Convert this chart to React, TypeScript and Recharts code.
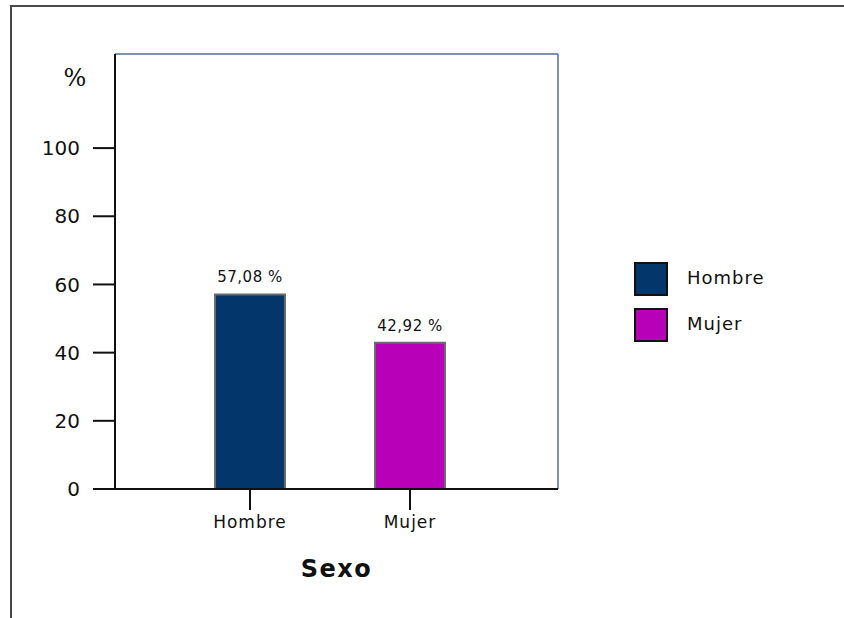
import React from 'react';
import {
  BarChart,
  Bar,
  XAxis,
  YAxis,
  Cell,
  LabelList,
  CartesianGrid,
} from 'recharts';

// Distribución por sexo (%)
const categories = ['Hombre', 'Mujer'];
const percentages = [57.08, 42.92];
const barColors = ['#03366a', '#b800b8'];
const yTicks = [0, 20, 40, 60, 80, 100];
const Y_MAX = 127.6;

const FONT = '"Century Gothic", "DejaVu Sans", sans-serif';

const data = categories.map((name, i) => ({ name, value: percentages[i] }));

const formatPct = (v: number) => `${v.toFixed(2).replace('.', ',')} %`;

const LegendBox = () => (
  <div
    style={{
      position: 'absolute',
      left: 634,
      top: 256,
      fontFamily: FONT,
      fontSize: 18,
      letterSpacing: 1,
      color: '#111',
    }}
  >
    {categories.map((c, i) => (
      <div key={c} style={{ display: 'flex', alignItems: 'center', height: 46 }}>
        <div
          style={{
            width: 30,
            height: 30,
            background: barColors[i],
            border: '2px solid #111',
            marginRight: 19,
          }}
        />
        <span style={{ marginTop: -3 }}>{c}</span>
      </div>
    ))}
  </div>
);

const PercentLabel = ({ viewBox }: any) => (
  <text
    x={viewBox.x + 75}
    y={viewBox.y + 32}
    textAnchor="middle"
    fontFamily="'DejaVu Serif', serif"
    fontSize={24}
    fill="#111"
  >
    %
  </text>
);

export default function App() {
  return (
    <div style={{ position: 'absolute', left: 0, top: 0, width: 844, height: 618, background: '#fff' }}>
      <div
        style={{
          position: 'absolute',
          left: 10,
          top: 5,
          right: 0,
          bottom: 0,
          borderTop: '2px solid #4a4a4a',
          borderLeft: '2px solid #4a4a4a',
        }}
      />
      <BarChart
        width={844}
        height={618}
        data={data}
        margin={{ top: 54, right: 286, bottom: 39, left: 0 }}
        style={{ position: 'absolute', left: 0, top: 0 }}
      >
        {/* frame on the top and right edges of the plot area */}
        <CartesianGrid
          yAxisId="left"
          stroke="#4f6e96"
          strokeWidth={1.5}
          horizontalCoordinatesGenerator={({ offset }: any) => [offset.top]}
          verticalCoordinatesGenerator={({ offset }: any) => [offset.left + offset.width]}
        />
        <XAxis
          dataKey="name"
          height={90}
          padding={{ left: 55, right: 68 }}
          axisLine={{ stroke: '#111', strokeWidth: 2 }}
          tickLine={{ stroke: '#111', strokeWidth: 2 }}
          tickSize={21}
          tickMargin={6}
          tick={{ fill: '#111', fontSize: 17, fontFamily: FONT, letterSpacing: 1 }}
          label={{
            value: 'Sexo',
            position: 'insideBottom',
            offset: 2,
            fill: '#111',
            fontSize: 24,
            fontWeight: 'bold',
            fontFamily: FONT,
            letterSpacing: 1.5,
          }}
        />
        <YAxis
          yAxisId="left"
          width={115}
          domain={[0, Y_MAX]}
          ticks={yTicks}
          allowDataOverflow
          axisLine={{ stroke: '#111', strokeWidth: 2 }}
          tickLine={{ stroke: '#111', strokeWidth: 2 }}
          tickSize={22}
          tickMargin={13}
          tick={{ fill: '#111', fontSize: 20, fontFamily: FONT }}
          label={<PercentLabel />}
        />
        <Bar
          yAxisId="left"
          dataKey="value"
          barSize={70}
          stroke="#6b6b6b"
          strokeWidth={2}
          isAnimationActive={false}
        >
          {data.map((d, i) => (
            <Cell key={d.name} fill={barColors[i]} />
          ))}
          <LabelList
            dataKey="value"
            position="top"
            offset={12}
            formatter={(v: any) => formatPct(Number(v))}
            style={{ fill: '#111', fontSize: 15, fontFamily: FONT, letterSpacing: 0.5 }}
          />
        </Bar>
      </BarChart>
      <LegendBox />
    </div>
  );
}
